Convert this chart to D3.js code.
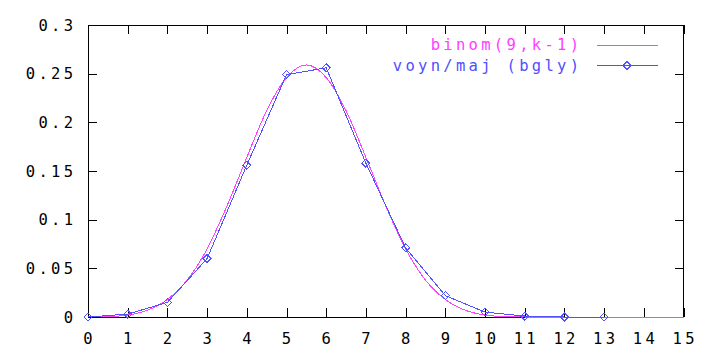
<!DOCTYPE html>
<html>
<head>
<meta charset="utf-8">
<script src="https://cdn.jsdelivr.net/npm/d3@7"></script>
<style>
html, body { margin: 0; padding: 0; background: #fff; }
svg text { font-family: "DejaVu Sans Mono", monospace; font-size: 15.5px; letter-spacing: 3.3px; }
</style>
</head>
<body>
<script>
// ---- data ----
const xTicks = [0,1,2,3,4,5,6,7,8,9,10,11,12,13,14,15];
const yTicks = [0, 0.05, 0.1, 0.15, 0.2, 0.25, 0.3];
const yTickLabels = ["0","0.05","0.1","0.15","0.2","0.25","0.3"];

const seriesNames = ["binom(9,k-1)", "voyn/maj (bgly)"];

// magenta smooth curve
const binomX = [0,0.5,1,1.5,2,2.5,3,3.5,4,4.5,5,5.5,6,6.5,7,7.5,8,8.5,9,9.5,10,10.5,11,12,13,14,15];
const binomY = [0,0.0004,0.002,0.007,0.018,0.038,0.070,0.114,0.164,0.212,0.246,0.259,0.246,0.212,0.164,0.114,0.070,0.038,0.018,0.007,0.002,0.0004,0,0,0,0,0];

// blue series with diamonds
const voynX = [0,1,2,3,4,5,6,7,8,9,10,11,12,13];
const voynY = [0,0.003,0.015,0.060,0.156,0.249,0.256,0.158,0.071,0.022,0.005,0.001,0,0];

const colors = ["#ff40ff", "#5050ff"];

// ---- layout ----
const W = 720, H = 360;
const M = {left: 88, right: 683.5, top: 25, bottom: 317};
const LS = 3.3;

const svg = d3.select("body").append("svg").attr("width", W).attr("height", H);

const x = d3.scaleLinear().domain([0, 15]).range([M.left, M.right]);
const y = d3.scaleLinear().domain([0, 0.3]).range([M.bottom, M.top]);

const tickLen = 9;

// border
svg.append("rect")
  .attr("x", M.left + 0.5).attr("y", M.top + 0.5)
  .attr("width", M.right - M.left - 0.5).attr("height", M.bottom - M.top)
  .attr("fill", "none").attr("stroke", "#000").attr("stroke-width", 1)
  .attr("shape-rendering", "crispEdges");

// axes via d3 axis generators (inward ticks, mirrored)
const xAxisB = d3.axisTop(x).tickValues(xTicks).tickSize(tickLen).tickFormat("");
const xAxisT = d3.axisBottom(x).tickValues(xTicks).tickSize(tickLen).tickFormat("");
const yAxisL = d3.axisRight(y).tickValues(yTicks).tickSize(tickLen).tickFormat("");
const yAxisR = d3.axisLeft(y).tickValues(yTicks).tickSize(tickLen).tickFormat("");

function styleAxis(g) {
  g.select(".domain").remove();
  g.selectAll("line").attr("stroke", "#000").attr("shape-rendering", "crispEdges");
}
svg.append("g").attr("transform", `translate(0,${M.bottom})`).call(xAxisB).call(styleAxis);
svg.append("g").attr("transform", `translate(0,${M.top})`).call(xAxisT).call(styleAxis);
svg.append("g").attr("transform", `translate(${M.left},0)`).call(yAxisL).call(styleAxis);
svg.append("g").attr("transform", `translate(${M.right},0)`).call(yAxisR).call(styleAxis);

// tick labels
svg.append("g").selectAll("text").data(xTicks).join("text")
  .attr("x", d => x(d) + LS / 2)
  .attr("y", 344)
  .attr("text-anchor", "middle")
  .attr("fill", "#000")
  .text(d => String(d));

svg.append("g").selectAll("text").data(yTicks).join("text")
  .attr("x", 73 + LS)
  .attr("y", d => y(d) + 5.5)
  .attr("text-anchor", "end")
  .attr("fill", "#000")
  .text((d, i) => yTickLabels[i]);

// series
const binomData = binomX.map((v, i) => [v, binomY[i]]);
const voynData = voynX.map((v, i) => [v, voynY[i]]);

svg.append("path")
  .datum(binomData)
  .attr("fill", "none").attr("stroke", colors[0]).attr("stroke-width", 1)
  .attr("shape-rendering", "crispEdges")
  .attr("d", d3.line().x(d => x(d[0])).y(d => y(d[1])).curve(d3.curveMonotoneX));

svg.append("path")
  .datum(voynData)
  .attr("fill", "none").attr("stroke", colors[1]).attr("stroke-width", 1)
  .attr("shape-rendering", "crispEdges")
  .attr("d", d3.line().x(d => x(d[0])).y(d => y(d[1])));

const diamond = (cx, cy, r) => `M${cx},${cy - r}L${cx + r},${cy}L${cx},${cy + r}L${cx - r},${cy}Z`;

svg.append("g").selectAll("path").data(voynData).join("path")
  .attr("d", d => diamond(x(d[0]), y(d[1]), 4))
  .attr("fill", "none").attr("stroke", colors[1]).attr("stroke-width", 1)
  .attr("shape-rendering", "crispEdges");

// legend
const legRows = [44.5, 65];
const leg = svg.append("g");
seriesNames.forEach((name, i) => {
  leg.append("text")
    .attr("x", 579 + LS).attr("y", legRows[i] + 5.5)
    .attr("text-anchor", "end").attr("fill", colors[i])
    .text(name);
  leg.append("line")
    .attr("x1", 597).attr("x2", 658)
    .attr("y1", legRows[i] + 0.5).attr("y2", legRows[i] + 0.5)
    .attr("stroke", colors[i]).attr("stroke-width", 1)
    .attr("shape-rendering", "crispEdges");
});
leg.append("path")
  .attr("d", diamond(627, legRows[1] + 0.5, 4))
  .attr("fill", "none").attr("stroke", colors[1]).attr("stroke-width", 1)
  .attr("shape-rendering", "crispEdges");
</script>
</body>
</html>
